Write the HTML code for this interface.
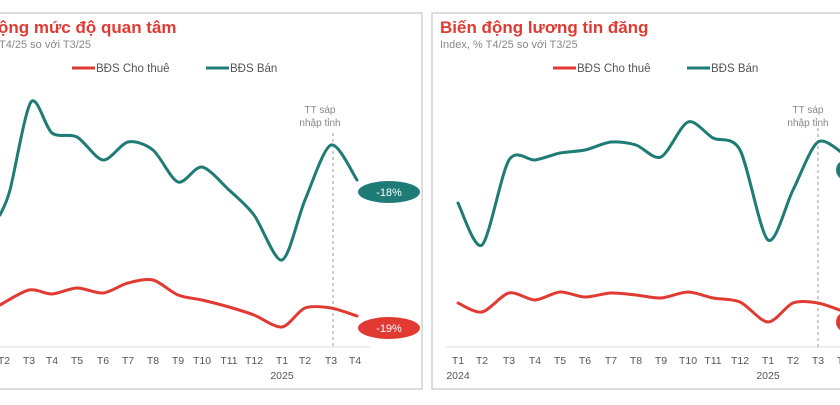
<!DOCTYPE html>
<html><head><meta charset="utf-8"><style>
body{margin:0;background:#fff;width:840px;height:400px;overflow:hidden;font-family:"Liberation Sans",sans-serif}
</style></head><body>
<svg id="s" width="840" height="400" xmlns="http://www.w3.org/2000/svg" font-family="Liberation Sans, sans-serif">
<rect x="-5" y="13" width="427" height="376" fill="#fff" stroke="#d0d0d0" stroke-width="1.5"/>
<rect x="432" y="13" width="420" height="376" fill="#fff" stroke="#d0d0d0" stroke-width="1.5"/>
<text x="-2" y="33" font-size="17" font-weight="bold" fill="#e03a33">ộng mức độ quan tâm</text>
<text x="-1" y="48" font-size="11" fill="#888">T4/25 so với T3/25</text>
<text x="440" y="33" font-size="17" font-weight="bold" fill="#e03a33">Biến động lương tin đăng</text>
<text x="440" y="48" font-size="11" fill="#888">Index, % T4/25 so với T3/25</text>
<g font-size="11.5" fill="#555">
<line x1="72" y1="68" x2="95" y2="68" stroke="#e03a33" stroke-width="3"/><text x="96" y="72">BĐS Cho thuê</text>
<line x1="206" y1="68" x2="229" y2="68" stroke="#1f7b76" stroke-width="3"/><text x="230" y="72">BĐS Bán</text>
<line x1="553" y1="68" x2="576" y2="68" stroke="#e03a33" stroke-width="3"/><text x="577" y="72">BĐS Cho thuê</text>
<line x1="687" y1="68" x2="710" y2="68" stroke="#1f7b76" stroke-width="3"/><text x="711" y="72">BĐS Bán</text>
</g>
<line x1="0" y1="347" x2="370" y2="347" stroke="#ddd"/>
<line x1="446" y1="347" x2="840" y2="347" stroke="#ddd"/>
<line x1="333" y1="133" x2="333" y2="347" stroke="#999" stroke-dasharray="3,3"/>
<line x1="818" y1="128" x2="818" y2="347" stroke="#999" stroke-dasharray="3,3"/>
<g font-size="10" fill="#888" text-anchor="middle">
<text x="320" y="113">TT sáp</text><text x="320" y="126">nhập tỉnh</text>
<text x="808" y="113">TT sáp</text><text x="808" y="126">nhập tỉnh</text>
</g>
<g id="lab" font-size="10.5" fill="#555" text-anchor="middle"></g>
<g id="lines" fill="none" stroke-width="3" stroke-linejoin="round" stroke-linecap="round"></g>
<ellipse cx="389" cy="192" rx="31" ry="11" fill="#1f7b76"/>
<text x="389" y="196" font-size="11" fill="#fff" text-anchor="middle">-18%</text>
<ellipse cx="389" cy="328" rx="31" ry="11" fill="#e03a33"/>
<text x="389" y="332" font-size="11" fill="#fff" text-anchor="middle">-19%</text>
<ellipse cx="846" cy="170" rx="10" ry="10" fill="#1f7b76"/>
<ellipse cx="846" cy="322" rx="10" ry="10" fill="#e03a33"/>
</svg>
<script>
function path(p){let d="M"+p[0][0]+","+p[0][1];for(let i=0;i<p.length-1;i++){const a=p[i-1]||p[i],b=p[i],c=p[i+1],e=p[i+2]||c;
d+=" C"+(b[0]+(c[0]-a[0])/7)+","+(b[1]+(c[1]-a[1])/7)+" "+(c[0]-(e[0]-b[0])/7)+","+(c[1]-(e[1]-b[1])/7)+" "+c[0]+","+c[1];}return d;}
const L=document.getElementById("lines");
function add(p,c){const e=document.createElementNS("http://www.w3.org/2000/svg","path");e.setAttribute("d",path(p));e.setAttribute("stroke",c);L.appendChild(e);}
add([[0,215],[10,190],[31,102],[52,133],[77,137],[103,160],[128,142],[153,150],[178,182],[202,167],[229,190],[254,215],[282,260],[305,200],[331,145],[357,180]],"#1f7b76");
add([[0,305],[29,290],[52,294],[77,288],[103,293],[128,283],[153,280],[178,295],[202,300],[229,307],[254,315],[282,327],[305,308],[331,308],[357,316]],"#e03a33");
add([[458,203],[482,245],[509,160],[535,160],[560,153],[585,150],[611,142],[636,145],[661,157],[688,122],[713,138],[740,150],[768,240],[793,190],[818,142],[845,155]],"#1f7b76");
add([[458,303],[482,312],[509,293],[535,300],[560,292],[585,297],[611,293],[636,295],[661,298],[688,292],[713,298],[740,302],[768,322],[793,303],[818,303],[845,312]],"#e03a33");
const G=document.getElementById("lab");
function t(x,y,s){const e=document.createElementNS("http://www.w3.org/2000/svg","text");e.setAttribute("x",x);e.setAttribute("y",y);e.textContent=s;G.appendChild(e);}
const lx=[4,29,52,77,103,128,153,178,202,229,254,282,305,331,355],ln=["T2","T3","T4","T5","T6","T7","T8","T9","T10","T11","T12","T1","T2","T3","T4"];
lx.forEach((x,i)=>t(x,364,ln[i]));t(282,379,"2025");
const rn=["T1","T2","T3","T4","T5","T6","T7","T8","T9","T10","T11","T12","T1","T2","T3","T4"];
const rx=[458,482,509,535,560,585,611,636,661,688,713,740,768,793,818,843];
rn.forEach((s,i)=>t(rx[i],364,s));t(458,379,"2024");t(768,379,"2025");
</script>
</body></html>
